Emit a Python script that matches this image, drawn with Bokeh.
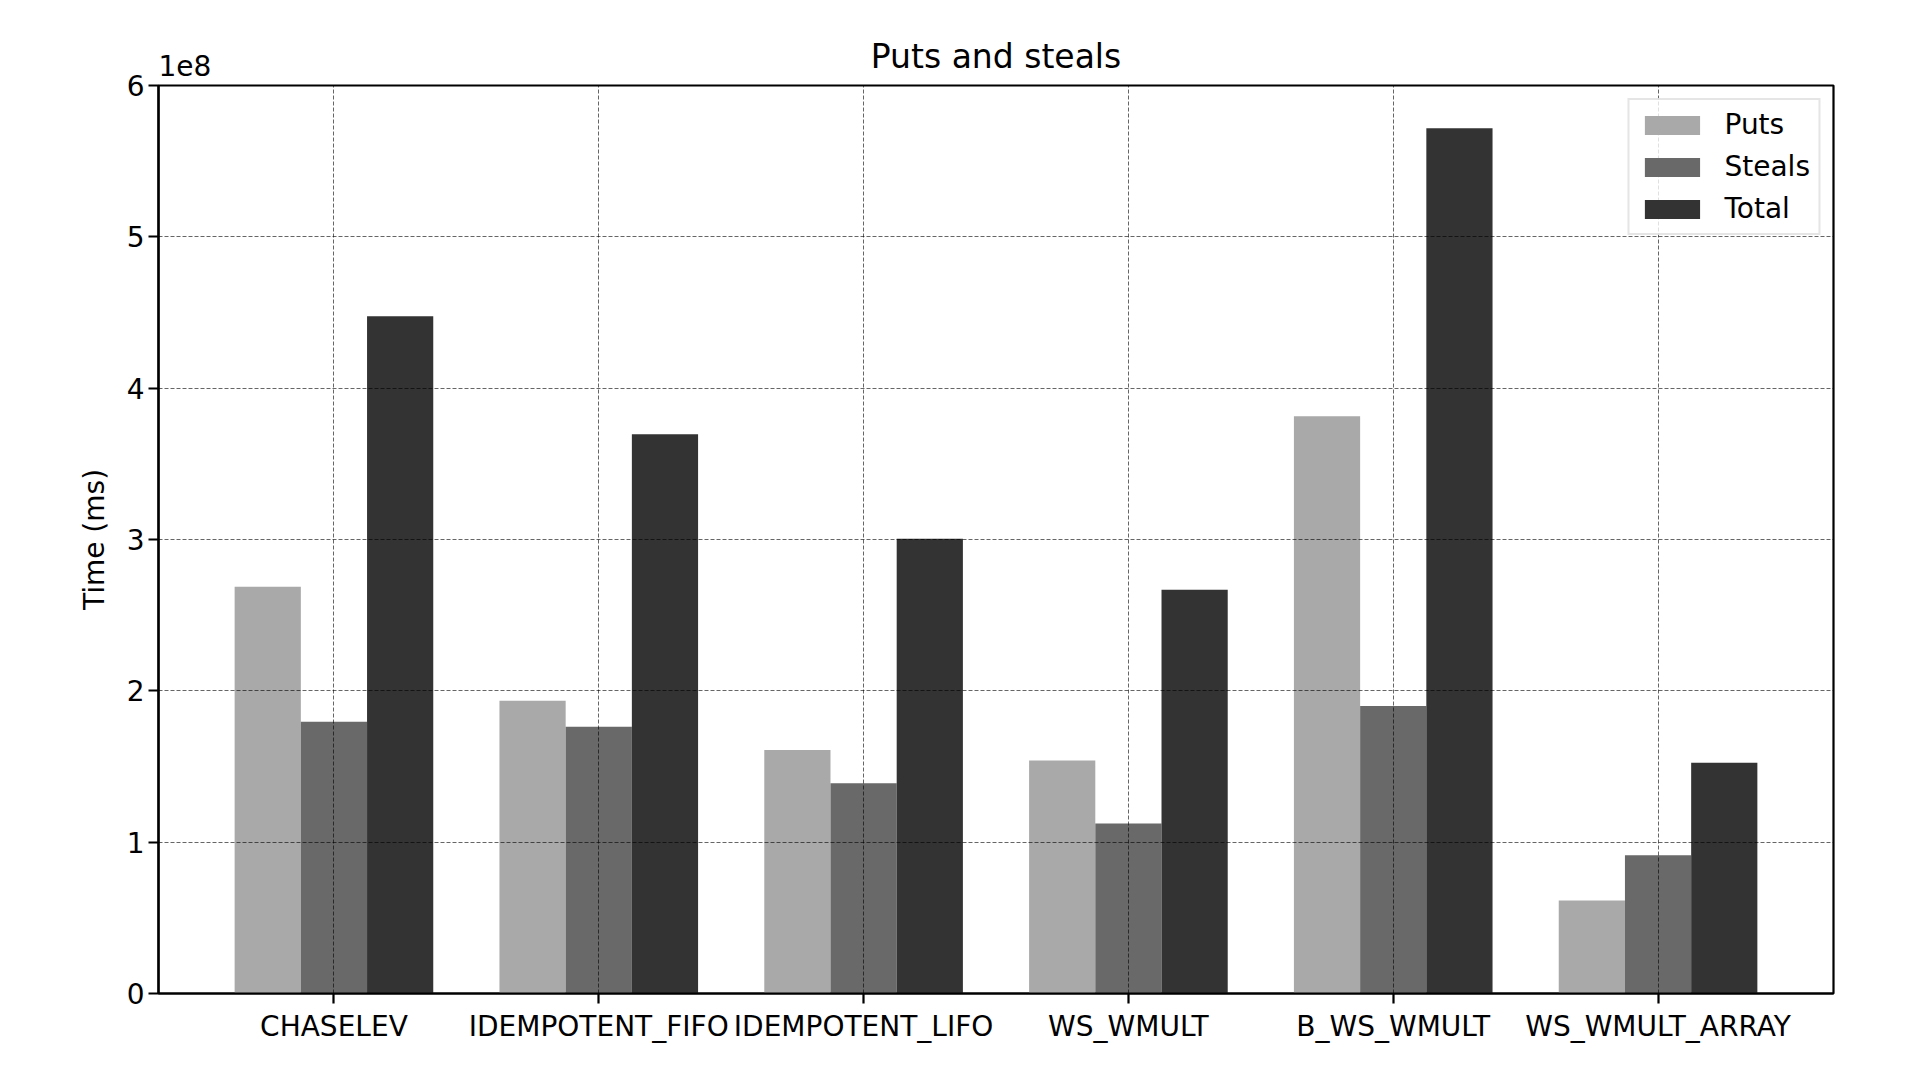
import numpy as np
from bokeh.plotting import figure
from bokeh.models import (ColumnDataSource, Range1d, FixedTicker, CustomJSTickFormatter, Label)
from bokeh.transform import dodge
from bokeh.embed import file_html
from bokeh.resources import INLINE

categories = ["CHASELEV", "IDEMPOTENT_FIFO", "IDEMPOTENT_LIFO", "WS_WMULT", "B_WS_WMULT", "WS_WMULT_ARRAY"]
puts = [2.687e8, 1.934e8, 1.609e8, 1.539e8, 3.814e8, 0.614e8]
steals = [1.795e8, 1.762e8, 1.390e8, 1.124e8, 1.900e8, 0.913e8]
total = [4.475e8, 3.696e8, 3.005e8, 2.668e8, 5.717e8, 1.525e8]
y_ticks = [0, 1e8, 2e8, 3e8, 4e8, 5e8, 6e8]

FONT = "DejaVu Sans"
n = len(categories)
w = 0.25
xs = list(range(n))
lo, hi = -1.5 * w, (n - 1) + 1.5 * w
pad = 0.05 * (hi - lo)
y_top = y_ticks[-1]

src = ColumnDataSource(dict(x=xs, puts=puts, steals=steals, total=total))

p = figure(width=1904, height=1064, output_backend="svg", toolbar_location=None,
           x_range=Range1d(lo - pad, hi + pad), y_range=Range1d(0, y_top),
           min_border_left=158, min_border_right=71, min_border_top=85, min_border_bottom=71,
           title="Puts and steals")
p.background_fill_color = "white"
p.border_fill_color = "white"
p.outline_line_color = "black"
p.outline_line_width = 2.2

p.title.align = "center"
p.title.text_font = FONT
p.title.text_font_size = "33px"
p.title.text_font_style = "normal"
p.title.text_color = "black"
p.title.standoff = 19

p.vbar(x=dodge("x", -w, range=p.x_range), top="puts", width=w, source=src,
       fill_color="#a9a9a9", line_color=None, legend_label="Puts")
p.vbar(x=dodge("x", 0, range=p.x_range), top="steals", width=w, source=src,
       fill_color="#696969", line_color=None, legend_label="Steals")
p.vbar(x=dodge("x", w, range=p.x_range), top="total", width=w, source=src,
       fill_color="#333333", line_color=None, legend_label="Total")

# axes
p.xaxis.ticker = FixedTicker(ticks=xs)
p.xaxis.major_label_overrides = {i: c for i, c in enumerate(categories)}
p.yaxis.ticker = FixedTicker(ticks=y_ticks)
p.yaxis.formatter = CustomJSTickFormatter(code="return (tick/1e8).toFixed(0);")
for ax in (p.xaxis, p.yaxis):
    ax.axis_line_color = "black"
    ax.axis_line_width = 2.2
    ax.major_tick_in = 0
    ax.major_tick_out = 10
    ax.major_tick_line_width = 2.2
    ax.major_tick_line_color = "black"
    ax.minor_tick_line_color = None
    ax.major_label_text_font = FONT
    ax.major_label_text_font_size = "28px"
    ax.major_label_text_color = "black"
    ax.axis_label_text_font = FONT
    ax.axis_label_text_font_size = "28px"
    ax.axis_label_text_font_style = "normal"
    ax.axis_label_text_color = "black"
p.xaxis.major_label_standoff = 6
p.yaxis.major_label_standoff = 4
p.yaxis.axis_label = "Time (ms)"
p.yaxis.axis_label_standoff = 13

# grid above bars
for g in (p.xgrid, p.ygrid):
    g.grid_line_color = "black"
    g.grid_line_alpha = 0.6
    g.grid_line_width = 1
    g.grid_line_dash = "4 2"
    g.level = "guide"

# offset text "1e8" (placed in a side panel so it is not clipped to the frame)
p.add_layout(Label(x=lo - pad, y=y_top, text="1e8", text_font=FONT, text_font_size="28px",
                   text_color="black", text_baseline="bottom", text_align="left",
                   y_offset=10), "left")

lg = p.legend[0]
lg.location = "top_right"
lg.margin = 13
lg.padding = 8
lg.spacing = 9
lg.glyph_width = 69
lg.glyph_height = 24
lg.label_height = 33
lg.label_standoff = 18
lg.label_text_font = FONT
lg.label_text_font_size = "28px"
lg.label_text_color = "black"
lg.border_line_color = "#cccccc"
lg.border_line_width = 2
lg.background_fill_alpha = 0.8

open("out.html", "w").write(file_html(p, INLINE))
